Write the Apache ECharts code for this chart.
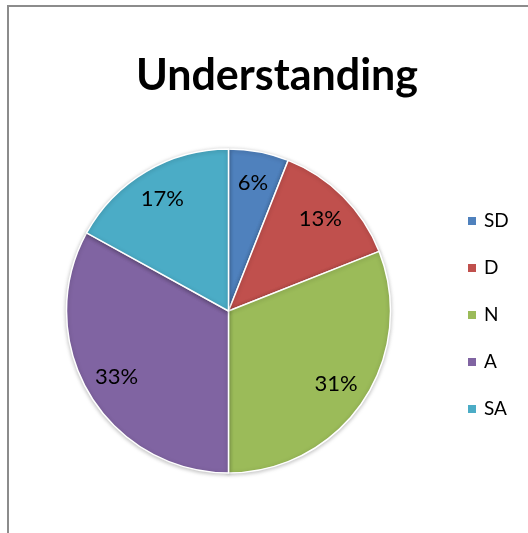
<!DOCTYPE html>
<html>
<head>
<meta charset="utf-8">
<script src="https://cdn.jsdelivr.net/npm/echarts@6/dist/echarts.min.js"></script>
<style>
html,body{margin:0;padding:0;background:#fff;}
#chart{width:528px;height:533px;}
</style>
</head>
<body>
<div id="chart"></div>
<script>
var categories = ['SD', 'D', 'N', 'A', 'SA'];
var values = [6, 13, 31, 33, 17];
var colors = ['#4F81BD', '#C0504D', '#9BBB59', '#8064A2', '#4BACC6'];
var titleText = 'Understanding';

var chart = echarts.init(document.getElementById('chart'), null, {renderer: 'canvas'});
var pieData = categories.map(function (c, i) {
  return {name: c, value: values[i], itemStyle: {color: colors[i]}};
});
var labelData = categories.map(function (c, i) {
  return {name: c, value: values[i]};
});

chart.setOption({
  animation: false,
  title: {
    text: titleText,
    left: 272,
    textAlign: 'center',
    top: 50,
    textStyle: {fontFamily: 'Lato', fontWeight: 'bold', fontSize: 43, color: '#000'}
  },
  legend: {
    orient: 'vertical',
    left: 461,
    top: 206,
    itemWidth: 10,
    itemHeight: 10,
    itemGap: 27,
    icon: 'rect',
    data: categories,
    textStyle: {fontFamily: 'Lato', fontSize: 19, lineHeight: 20, color: '#000', padding: [0, 0, 0, 2]}
  },
  graphic: [
    {type: 'line', shape: {x1: 8, y1: 6, x2: 528, y2: 6}, style: {stroke: '#8c8c8c', lineWidth: 2}},
    {type: 'line', shape: {x1: 8, y1: 5, x2: 8, y2: 533}, style: {stroke: '#8c8c8c', lineWidth: 2}}
  ],
  series: [
    {
      type: 'pie',
      center: [228.5, 311],
      radius: [0, 162],
      startAngle: 90,
      clockwise: true,
      silent: true,
      label: {show: false},
      labelLine: {show: false},
      itemStyle: {borderColor: '#fff', borderWidth: 1.5, shadowBlur: 4, shadowColor: 'rgba(0,0,0,0.25)', shadowOffsetY: 1},
      data: pieData
    },
    {
      type: 'pie',
      center: [228.5, 311],
      radius: [92, 162],
      startAngle: 90,
      clockwise: true,
      silent: true,
      legendHoverLink: false,
      itemStyle: {color: 'rgba(0,0,0,0)', borderWidth: 0},
      label: {
        show: true,
        position: 'inside',
        formatter: '{c}%',
        fontFamily: 'Lato',
        fontSize: 22,
        color: '#000'
      },
      labelLine: {show: false},
      data: labelData
    }
  ]
});
</script>
</body>
</html>
